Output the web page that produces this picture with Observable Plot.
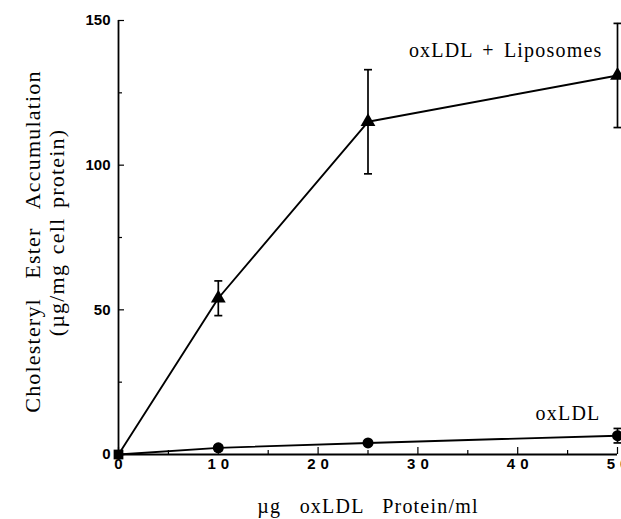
<!DOCTYPE html>
<html><head><meta charset="utf-8">
<script src="https://cdn.jsdelivr.net/npm/d3@7"></script>
<script src="https://cdn.jsdelivr.net/npm/@observablehq/plot@0.6"></script>
<style>
body{margin:0;background:#fff;}
g[font-family*="Serif"] text{letter-spacing:1.2px;word-spacing:3px;}
g[aria-label="x-axis tick label"] text{letter-spacing:5px;}
</style></head><body><div id="chart"></div>
<script>
const doses = [0, 10, 25, 50];
const liposomeMeans = [0, 54, 115, 131];
const liposomeErrors = [0, 6, 18, 18];
const oxldlMeans = [0, 2.3, 4, 6.5];
const oxldlErrors = [0, 1, 0, 2.5];
const xMajorTicks = [0, 10, 20, 30, 40, 50];
const xMinorTicks = [5, 15, 25, 35, 45];
const yMajorTicks = [0, 50, 100, 150];
const yMinorTicks = [25, 75, 125];
const seriesLabels = ["oxLDL + Liposomes", "oxLDL"];
const yTitleLines = ["Cholesteryl  Ester  Accumulation", "(µg/mg cell protein)"];
const xTitle = "µg  oxLDL  Protein/ml";

const W = 621, H = 519, mL = 118, mR = 4, mT = 20, mB = 65;
const plotW = W - mL - mR, plotH = H - mT - mB;
const serif = "Liberation Serif, Times New Roman, serif";
const sans = "Liberation Sans, Arial, sans-serif";

const lipo = doses.map((d, i) => ({dose: d, mean: liposomeMeans[i], err: liposomeErrors[i]}));
const ox = doses.map((d, i) => ({dose: d, mean: oxldlMeans[i], err: oxldlErrors[i]}));
const withErr = [...lipo, ...ox].filter(d => d.err > 0);

const cap = {draw(context, size) { const w = Math.sqrt(size / Math.PI); context.moveTo(-w, 0); context.lineTo(w, 0); }};

const chart = Plot.plot({
  width: W, height: H,
  marginLeft: mL, marginRight: mR, marginTop: mT, marginBottom: mB,
  x: {domain: [0, 50]},
  y: {domain: [0, 150]},
  style: {background: "white", overflow: "visible"},
  marks: [
    Plot.ruleX([0], {y1: 0, y2: 150, strokeWidth: 1.8}),
    Plot.ruleY([0], {x1: 0, x2: 50, strokeWidth: 1.8}),
    Plot.tickX(xMajorTicks, {x: d => d, insetTop: plotH - 7, strokeWidth: 1.2}),
    Plot.tickX(xMinorTicks, {x: d => d, insetTop: plotH - 4, strokeWidth: 1.2}),
    Plot.tickY(yMajorTicks, {y: d => d, insetRight: plotW - 6, strokeWidth: 1.2}),
    Plot.tickY(yMinorTicks, {y: d => d, insetRight: plotW - 4, strokeWidth: 1.2}),
    Plot.axisX(xMajorTicks, {tickSize: 0, tickPadding: 4, fontSize: 15, fontWeight: "bold", fontFamily: sans, dx: 2.5, label: null}),
    Plot.axisY(yMajorTicks, {tickSize: 0, tickPadding: 8, fontSize: 15, fontWeight: "bold", fontFamily: sans, label: null}),
    Plot.line(lipo, {x: "dose", y: "mean", strokeWidth: 1.9}),
    Plot.line(ox, {x: "dose", y: "mean", strokeWidth: 1.9}),
    Plot.ruleX(withErr, {x: "dose", y1: d => d.mean - d.err, y2: d => d.mean + d.err, strokeWidth: 1.7}),
    Plot.dot(withErr, {x: "dose", y: d => d.mean + d.err, symbol: cap, r: 4, stroke: "black", strokeWidth: 1.7}),
    Plot.dot(withErr, {x: "dose", y: d => d.mean - d.err, symbol: cap, r: 4, stroke: "black", strokeWidth: 1.7}),
    Plot.dot(lipo.filter(d => d.dose > 0), {x: "dose", y: "mean", symbol: "triangle", r: 5.5, fill: "black", stroke: "none"}),
    Plot.dot(ox.filter(d => d.dose > 0), {x: "dose", y: "mean", symbol: "circle", r: 5.5, fill: "black", stroke: "none"}),
    Plot.dot(lipo.filter(d => d.dose === 0), {x: "dose", y: "mean", symbol: "square", r: 5.5, fill: "black", stroke: "none"}),
    Plot.text([seriesLabels[0]], {x: 50, y: 139.5, text: d => d, textAnchor: "end", dx: -15, fontSize: 20, fontFamily: serif}),
    Plot.text([seriesLabels[1]], {x: 50, y: 14.2, text: d => d, textAnchor: "end", dx: -17, fontSize: 20, fontFamily: serif}),
    Plot.text([yTitleLines[0]], {frameAnchor: "left", textAnchor: "middle", text: d => d, rotate: -90, dx: -86, dy: 4, fontSize: 22, fontFamily: serif}),
    Plot.text([yTitleLines[1]], {frameAnchor: "left", textAnchor: "middle", text: d => d, rotate: -90, dx: -62, dy: -5, fontSize: 22, fontFamily: serif}),
    Plot.text([xTitle], {frameAnchor: "bottom", text: d => d, dy: 58, fontSize: 20, fontFamily: serif})
  ]
});
document.getElementById("chart").appendChild(chart);
</script></body></html>
